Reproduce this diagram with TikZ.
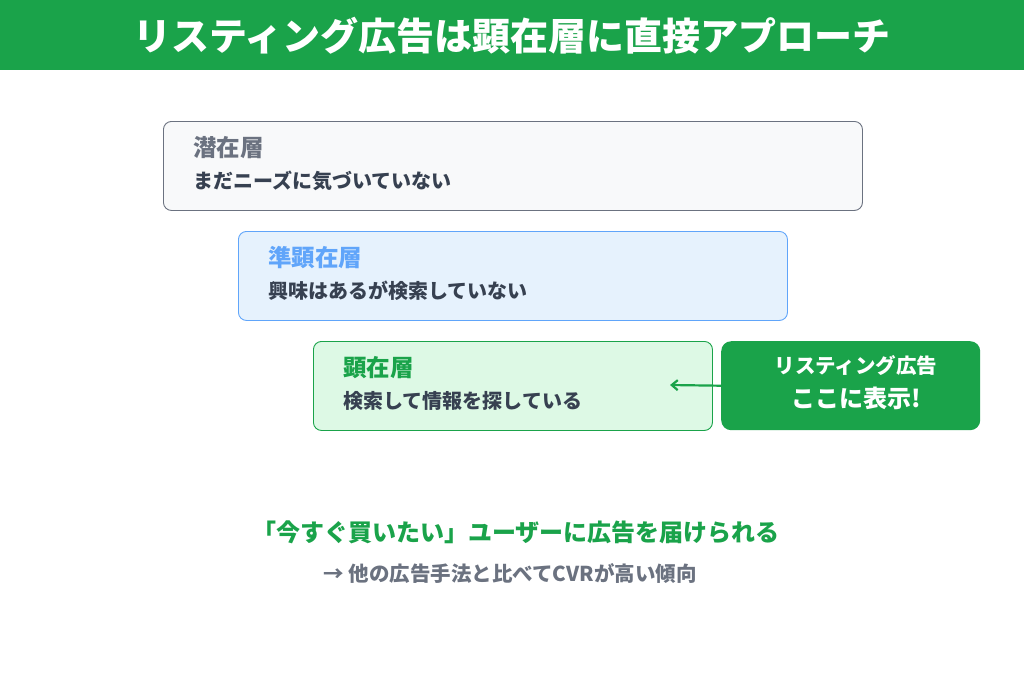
\documentclass[tikz,border=0pt]{standalone}
\usepackage{fontspec}
\setmainfont{Noto Sans CJK JP}
\usepackage{tikz}
\usetikzlibrary{positioning}
\usetikzlibrary{arrows.meta}

\definecolor{AdGreen}{HTML}{1AA34A}
\definecolor{TextGray}{HTML}{6B7280}
\definecolor{TextDark}{HTML}{374151}
\definecolor{LayerBlue}{HTML}{60A5FA}
\definecolor{FillGray}{HTML}{F8F9FA}
\definecolor{FillBlue}{HTML}{E6F2FD}
\definecolor{FillGreen}{HTML}{DDF9E5}

\tikzset{
  layer/.style={draw, line width=0.9pt, rounded corners=8pt, anchor=north west,
    minimum height=89pt, inner sep=0pt},
  head/.style={anchor=west, inner sep=0pt, font=\fontsize{23.5}{26}\selectfont\bfseries},
  desc/.style={anchor=west, inner sep=0pt, text=TextDark, font=\fontsize{20}{24}\selectfont\bfseries},
}

\begin{document}
\begin{tikzpicture}[x=1pt, y=-1pt, line join=round]
\useasboundingbox (0,0) rectangle (1024,683);
% title bar
\fill[AdGreen] (0,0) rectangle (1024,70);
\node[text=white, font=\fontsize{38}{42}\selectfont\bfseries] (title) at (512,36)
  {リスティング広告は顕在層に直接アプローチ};

% layers
\node[layer, fill=FillGray, draw=TextGray, minimum width=699pt] (latent) at (163,121) {};
\node[head, text=TextGray] (latentHead) at (193,148) {潜在層};
\node[desc] (latentDesc) at (193,181) {まだニーズに気づいていない};

\node[layer, fill=FillBlue, draw=LayerBlue, minimum width=549pt] (semi) at (238,231) {};
\node[head, text=LayerBlue] (semiHead) at (268,258) {準顕在層};
\node[desc] (semiDesc) at (268,291) {興味はあるが検索していない};

\node[layer, fill=FillGreen, draw=AdGreen, minimum width=399pt] (actual) at (313,341) {};
\node[head, text=AdGreen] (actualHead) at (343,368) {顕在層};
\node[desc] (actualDesc) at (343,401) {検索して情報を探している};

% callout
\node[fill=AdGreen, rounded corners=10pt, anchor=north west, minimum width=259pt,
  minimum height=89pt] (callout) at (721,341) {};
\node[text=white, font=\fontsize{20.5}{24}\selectfont\bfseries] (calloutTop) at (856,366) {リスティング広告};
\node[text=white, font=\fontsize{24}{28}\selectfont\bfseries] (calloutBot) at (856,398) {ここに表示!};
\coordinate (arrowEnd) at (670,385);
\draw[AdGreen, line width=2.2pt, -{Straight Barb[length=6pt, width=10pt]}] (callout.west) -- (arrowEnd);

% summary
\node[text=AdGreen, font=\fontsize{24}{28}\selectfont\bfseries] (summary) at (516,532)
  {「今すぐ買いたい」ユーザーに広告を届けられる};
\node[text=TextGray, font=\fontsize{20.5}{24}\selectfont\bfseries] (note) at (510,573)
  {→ 他の広告手法と比べてCVRが高い傾向};
\end{tikzpicture}
\end{document}
